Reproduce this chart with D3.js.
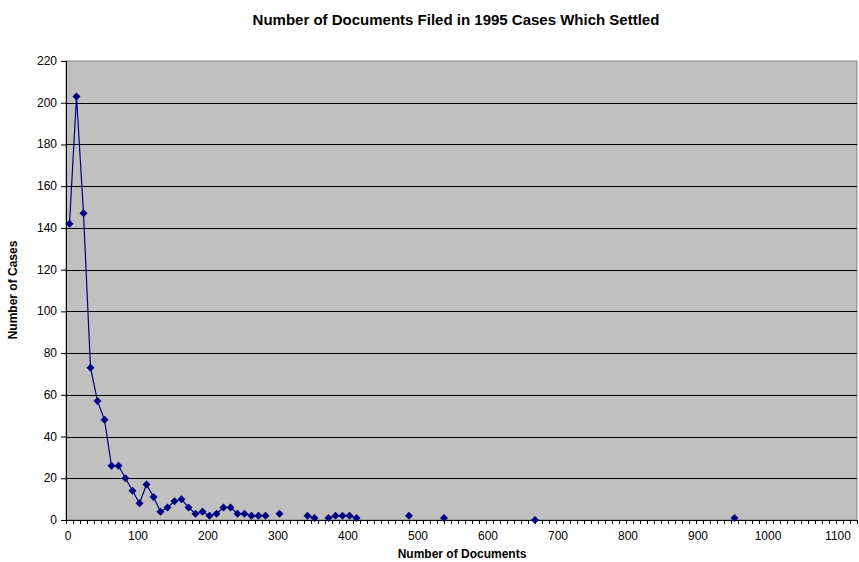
<!DOCTYPE html>
<html>
	<head>
		<title></title>
		<script src="https://cdn.jsdelivr.net/npm/d3@7/dist/d3.min.js"></script>
		<style>
			body { margin: 0; background: #fff; }
			text { font-family: Arial, "Liberation Sans", sans-serif; }
		</style>
	</head>
	<body>
		<script>
			// documents filed (bin) and number of cases
			var docs = [5, 15, 25, 35, 45, 55, 65, 75, 85, 95,
						105, 115, 125, 135, 145, 155, 165, 175, 185, 195,
						205, 215, 225, 235, 245, 255, 265, 275, 285, 305,
						345, 355, 375, 385, 395, 405, 415, 490, 540, 670, 955];
			var cases = [142, 203, 147, 73, 57, 48, 26, 26, 20, 14,
						 8, 17, 11, 4, 6, 9, 10, 6, 3, 4,
						 2, 3, 6, 6, 3, 3, 2, 2, 2, 3,
						 2, 1, 1, 2, 2, 2, 1, 2, 1, 0, 1];
			var xTicks = [0, 100, 200, 300, 400, 500, 600, 700, 800, 900, 1000, 1100];
			var yTicks = [0, 20, 40, 60, 80, 100, 120, 140, 160, 180, 200, 220];

			var w = 859,
				h = 562,
				pLeft = 66, pRight = 857, pTop = 61, pBottom = 520;

			var svg = d3.select('body')
						.append('svg')
						.attr('width', w)
						.attr('height', h);

			var x = d3.scaleLinear().domain([0, 1130]).range([pLeft, pRight]);
			var y = d3.scaleLinear().domain([0, 220]).range([pBottom, pTop]);

			// plot area
			svg.append('rect')
				.attr('x', pLeft).attr('y', pTop)
				.attr('width', pRight - pLeft).attr('height', pBottom - pTop)
				.attr('fill', '#c0c0c0')
				.attr('stroke', '#808080')
				.attr('stroke-width', 1);

			// gridlines
			svg.selectAll('.grid')
				.data(yTicks.slice(1, -1))
				.enter()
				.append('line')
				.attr('x1', pLeft).attr('x2', pRight)
				.attr('y1', function(d) { return Math.round(y(d)) + 0.5; })
				.attr('y2', function(d) { return Math.round(y(d)) + 0.5; })
				.attr('stroke', '#000')
				.attr('stroke-width', 1);

			// x axis with minor ticks every 10
			var minor = d3.range(0, 1131, 10);
			svg.append('g')
				.attr('transform', 'translate(0,' + pBottom + ')')
				.call(d3.axisBottom(x).tickValues(minor).tickSize(4).tickFormat(''))
				.call(function(g) { g.select('.domain').remove(); });
			svg.append('line')
				.attr('x1', pLeft).attr('x2', pRight)
				.attr('y1', pBottom + 0.5).attr('y2', pBottom + 0.5)
				.attr('stroke', '#000');
			svg.selectAll('.xlab')
				.data(xTicks)
				.enter()
				.append('text')
				.attr('x', function(d) { return x(d) + 2; })
				.attr('y', 540)
				.attr('text-anchor', 'middle')
				.attr('font-size', '12px')
				.text(function(d) { return d; });

			// y axis
			svg.append('g')
				.attr('transform', 'translate(' + pLeft + ',0)')
				.call(d3.axisLeft(y).tickValues(yTicks).tickSize(5).tickFormat(''))
				.call(function(g) { g.select('.domain').remove(); });
			svg.append('line')
				.attr('x1', pLeft + 0.5).attr('x2', pLeft + 0.5)
				.attr('y1', pTop).attr('y2', pBottom + 1)
				.attr('stroke', '#000');
			svg.selectAll('.ylab')
				.data(yTicks)
				.enter()
				.append('text')
				.attr('x', 57)
				.attr('y', function(d) { return y(d) + 4; })
				.attr('text-anchor', 'end')
				.attr('font-size', '12px')
				.text(function(d) { return d; });

			// series line, broken where bins are missing
			var pts = docs.map(function(d, i) { return [d, cases[i]]; });
			var segs = [], cur = [];
			pts.forEach(function(p, i) {
				if (i > 0 && p[0] - pts[i - 1][0] > 10) { segs.push(cur); cur = []; }
				cur.push(p);
			});
			segs.push(cur);
			var line = d3.line()
				.x(function(d) { return x(d[0]); })
				.y(function(d) { return y(d[1]); });
			svg.selectAll('.seg')
				.data(segs.filter(function(s) { return s.length > 1; }))
				.enter()
				.append('path')
				.attr('d', line)
				.attr('fill', 'none')
				.attr('stroke', '#000080')
				.attr('stroke-width', 1.2);

			svg.selectAll('.pt')
				.data(pts)
				.enter()
				.append('path')
				.attr('d', 'M0,-4L4,0L0,4L-4,0Z')
				.attr('transform', function(d) { return 'translate(' + x(d[0]) + ',' + y(d[1]) + ')'; })
				.attr('fill', '#000080');

			// titles
			svg.append('text')
				.attr('x', 456).attr('y', 25)
				.attr('text-anchor', 'middle')
				.attr('font-size', '15px')
				.attr('font-weight', 'bold')
				.text('Number of Documents Filed in 1995 Cases Which Settled');
			svg.append('text')
				.attr('x', 462).attr('y', 558)
				.attr('text-anchor', 'middle')
				.attr('font-size', '12px')
				.attr('font-weight', 'bold')
				.text('Number of Documents');
			svg.append('text')
				.attr('transform', 'translate(17,290) rotate(-90)')
				.attr('text-anchor', 'middle')
				.attr('font-size', '12px')
				.attr('font-weight', 'bold')
				.text('Number of Cases');
		</script>
	</body>
</html>
